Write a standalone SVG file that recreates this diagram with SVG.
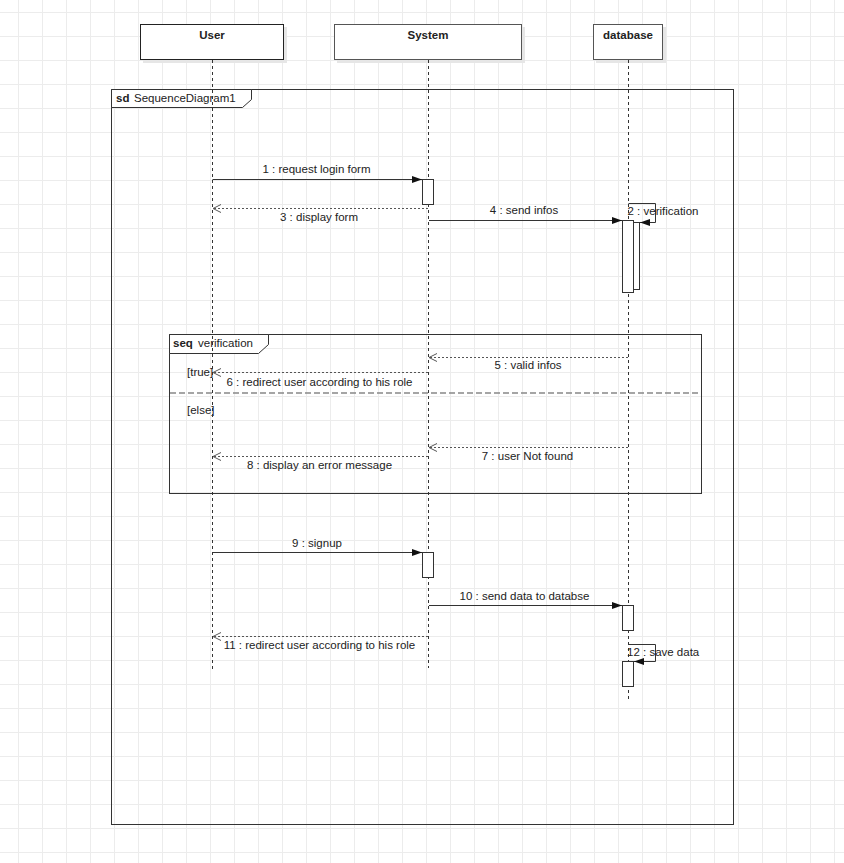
<svg xmlns="http://www.w3.org/2000/svg" width="844" height="863" viewBox="0 0 844 863">
<style>
  text { font-family: "Liberation Sans", Arial, sans-serif; font-size: 11.5px; fill: #222; }
  .b { font-weight: bold; }
  .m { text-anchor: middle; }
  .head { fill: #fff; }
  .shadow { fill: #e6e6e6; stroke: none; }
  .life { stroke: #333; stroke-width: 1; stroke-dasharray: 3 3; fill: none; }
  .frame { fill: none; stroke: #333; stroke-width: 1; }
  .tab { fill: #fff; stroke: #333; stroke-width: 1; }
  .sync { stroke: #333; stroke-width: 1; fill: none; marker-end: url(#block); }
  .ret { stroke: #555; stroke-width: 1; fill: none; stroke-dasharray: 2 2; marker-end: url(#open); }
  .act { fill: #fff; stroke: #333; stroke-width: 1; }
  .div { stroke: #888; stroke-width: 1.5; stroke-dasharray: 6 3; fill: none; }
</style>
<defs>
  <pattern id="grid" x="18" y="12" width="24" height="24" patternUnits="userSpaceOnUse">
    <path d="M0 0.5 H24 M0.5 0 V24" stroke="#ececec" stroke-width="1" fill="none"/>
  </pattern>
  <marker id="block" markerUnits="userSpaceOnUse" markerWidth="11" markerHeight="8" refX="10" refY="3.5" orient="auto">
    <path d="M0,0 L10,3.5 L0,7 z" fill="#111"/>
  </marker>
  <marker id="open" markerUnits="userSpaceOnUse" markerWidth="10" markerHeight="10" refX="8.5" refY="4.5" orient="auto">
    <path d="M0.5,0.5 L8.5,4.5 L0.5,8.5" fill="none" stroke="#555" stroke-width="1"/>
  </marker>
</defs>
<rect width="844" height="863" fill="#fff"/>
<rect width="844" height="863" fill="url(#grid)"/>

<g id="frame-sd">
  <rect class="frame" x="111.5" y="89.5" width="622" height="735"/>
  <path class="tab" d="M111.5,89.5 H251.5 V99.5 L242.5,107.5 H111.5 Z"/>
  <text x="116" y="102"><tspan class="b">sd</tspan><tspan x="134">SequenceDiagram1</tspan></text>
</g>

<g id="frame-seq">
  <rect class="frame" x="169.5" y="334.5" width="532" height="159"/>
  <path class="tab" d="M169.5,334.5 H268.5 V344.5 L258.5,353.5 H169.5 Z"/>
  <text x="173" y="347"><tspan class="b">seq</tspan><tspan x="198">verification</tspan></text>
  <line class="div" x1="170" y1="393" x2="701" y2="393"/>
  <text x="187" y="376">[true]</text>
  <text x="187" y="414">[else]</text>
</g>

<g id="user">
  <rect class="shadow" x="143" y="27" width="144" height="36"/>
  <rect class="head" x="140.5" y="24.5" width="143" height="35" stroke="#222"/>
  <text class="b m" x="212" y="39">User</text>
  <line class="life" x1="212.5" y1="60" x2="212.5" y2="672"/>
</g>

<g id="system">
  <rect class="shadow" x="337" y="27" width="188" height="36"/>
  <rect class="head" x="334.5" y="24.5" width="187" height="35" stroke="#555"/>
  <text class="b m" x="428" y="39">System</text>
  <line class="life" x1="428.5" y1="60" x2="428.5" y2="668"/>
</g>

<g id="database">
  <rect class="shadow" x="596" y="27" width="70" height="36"/>
  <rect class="head" x="593.5" y="24.5" width="69" height="35" stroke="#555"/>
  <text class="b m" x="628" y="39">database</text>
  <line class="life" x1="628.5" y1="60" x2="628.5" y2="700"/>
</g>

<g id="connectors">
  <line class="sync" x1="212.5" y1="179.5" x2="422" y2="179.5"/>
  <line class="ret" x1="428" y1="208.5" x2="213" y2="208.5"/>
  <line class="sync" x1="429" y1="220.5" x2="622" y2="220.5"/>
  <path class="sync" d="M628.5,203.5 H655.5 V222.5 H640"/>
  <line class="ret" x1="628" y1="357.5" x2="429" y2="357.5"/>
  <line class="ret" x1="428" y1="372.5" x2="213" y2="372.5"/>
  <line class="ret" x1="628" y1="447.5" x2="429" y2="447.5"/>
  <line class="ret" x1="428" y1="456.5" x2="213" y2="456.5"/>
  <line class="sync" x1="212.5" y1="552.5" x2="422" y2="552.5"/>
  <line class="sync" x1="429" y1="605.5" x2="622" y2="605.5"/>
  <line class="ret" x1="428" y1="636.5" x2="213" y2="636.5"/>
  <path class="sync" d="M628.5,644.5 H655.5 V661.5 H634"/>
</g>

<g id="activations">
  <rect class="act" x="422.5" y="179.5" width="11" height="25"/>
  <rect class="act" x="622.5" y="220.5" width="11" height="72"/>
  <rect class="act" x="633.5" y="222.5" width="6" height="67"/>
  <rect class="act" x="422.5" y="552.5" width="11" height="25"/>
  <rect class="act" x="622.5" y="605.5" width="11" height="25"/>
  <rect class="act" x="622.5" y="661.5" width="11" height="25"/>
</g>

<g id="labels">
  <text class="m" x="316.5" y="172.5">1 : request login form</text>
  <text class="m" x="319" y="221">3 : display form</text>
  <text class="m" x="524" y="214">4 : send infos</text>
  <text x="627.5" y="215">2 : verification</text>
  <text class="m" x="528" y="369">5 : valid infos</text>
  <text class="m" x="319.5" y="385.5">6 : redirect user according to his role</text>
  <text class="m" x="527.5" y="459.5">7 : user Not found</text>
  <text class="m" x="319.5" y="468.5">8 : display an error message</text>
  <text class="m" x="317" y="546.5">9 : signup</text>
  <text class="m" x="524.5" y="600">10 : send data to databse</text>
  <text class="m" x="319.5" y="649">11 : redirect user according to his role</text>
  <text x="627" y="656">12 : save data</text>
</g>
</svg>
